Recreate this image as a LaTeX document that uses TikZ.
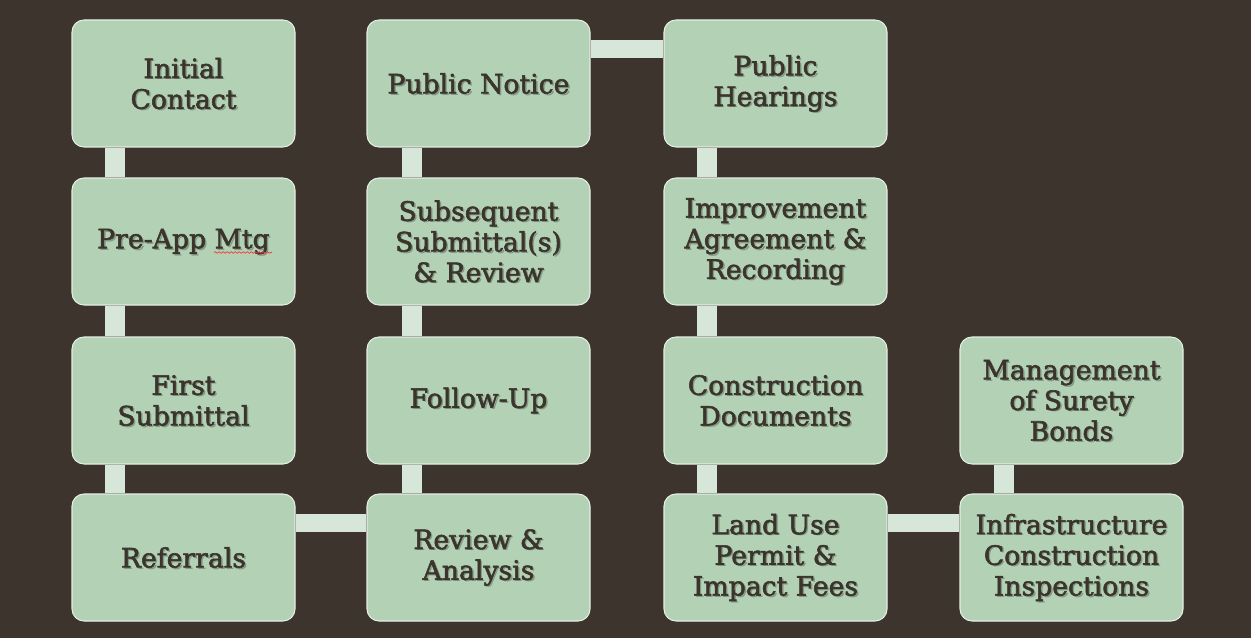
\documentclass[tikz,border=0pt]{standalone}
\usepackage{fontspec}
\setmainfont{DejaVu Serif}
\newfontfamily\boxfont{DejaVu Serif}
\usetikzlibrary{decorations.pathmorphing}
\definecolor{bgcol}{HTML}{3D352D}
\definecolor{boxfill}{HTML}{B2D1B5}
\definecolor{boxline}{HTML}{E6EEE6}
\definecolor{conncol}{HTML}{D6E7D9}
\definecolor{txtcol}{HTML}{3A342C}
\definecolor{shadowcol}{HTML}{1E1A16}
\newcommand\heavytext[1]{\special{pdf:code 2 Tr 0.4 w}#1\special{pdf:code 0 Tr}}
\newcommand\mkbox[4]{%
  \node[box] (#1) at (#2,#3) {};
  \node[txt, text=shadowcol, opacity=0.3] (#1s) at ([shift={(1.8,1.8)}]#1.center) {#4};
  \node[txt] (#1t) at (#1.center) {\heavytext{#4}};
}
\begin{document}
\begin{tikzpicture}[x=0.75pt,y=-0.75pt,
  box/.style={draw=boxline, line width=0.8pt, fill=boxfill, rounded corners=9pt,
    minimum width=167.25pt, minimum height=95.25pt, inner sep=0pt},
  txt/.style={font=\boxfont\fontsize{20}{23}\selectfont, text=txtcol, align=center, inner sep=0pt},
  vconn/.style={draw=conncol, line width=15pt},
  hconn/.style={draw=conncol, line width=13.5pt}]
\fill[bgcol] (0,0) rectangle (1251,638);
\useasboundingbox (0,0) rectangle (1251,638);
% column 1
\mkbox{a1}{183.5}{83.5}{Initial\\Contact}
\mkbox{a2}{183.5}{241.5}{Pre-App Mtg}
\mkbox{a3}{183.5}{400.5}{First\\Submittal}
\mkbox{a4}{183.5}{557.5}{Referrals}
% column 2
\mkbox{b1}{478.5}{83.5}{Public Notice}
\mkbox{b2}{478.5}{241.5}{Subsequent\\Submittal(s)\\\& Review}
\mkbox{b3}{478.5}{400.5}{Follow-Up}
\mkbox{b4}{478.5}{557.5}{Review \&\\Analysis}
% column 3
\mkbox{c1}{775.5}{83.5}{Public\\Hearings}
\mkbox{c2}{775.5}{241.5}{Improvement\\Agreement \&\\Recording}
\mkbox{c3}{775.5}{400.5}{Construction\\Documents}
\mkbox{c4}{775.5}{557.5}{Land Use\\Permit \&\\Impact Fees}
% column 4
\mkbox{d3}{1071.5}{400.5}{Management\\of Surety\\Bonds}
\mkbox{d4}{1071.5}{557.5}{Infrastructure\\Construction\\Inspections}
% spell-check squiggle
\draw[red!80!white, line width=0.5pt, decorate, decoration={snake, segment length=3pt, amplitude=0.6pt}]
  ([shift={(30.5,11)}]a2.center) -- ([shift={(88.5,11)}]a2.center);
% connectors
\draw[vconn] ([shift={(44,0)}]a1.south west) -- ([shift={(44,0)}]a2.north west);
\draw[vconn] ([shift={(44,0)}]a2.south west) -- ([shift={(44,0)}]a3.north west);
\draw[vconn] ([shift={(44,0)}]a3.south west) -- ([shift={(44,0)}]a4.north west);
\draw[hconn] ([shift={(0,30)}]a4.north east) -- ([shift={(0,30)}]b4.north west);
\draw[vconn] ([shift={(46,0)}]b4.north west) -- ([shift={(46,0)}]b3.south west);
\draw[vconn] ([shift={(46,0)}]b3.north west) -- ([shift={(46,0)}]b2.south west);
\draw[vconn] ([shift={(46,0)}]b2.north west) -- ([shift={(46,0)}]b1.south west);
\draw[hconn] ([shift={(0,30)}]b1.north east) -- ([shift={(0,30)}]c1.north west);
\draw[vconn] ([shift={(44,0)}]c1.south west) -- ([shift={(44,0)}]c2.north west);
\draw[vconn] ([shift={(44,0)}]c2.south west) -- ([shift={(44,0)}]c3.north west);
\draw[vconn] ([shift={(44,0)}]c3.south west) -- ([shift={(44,0)}]c4.north west);
\draw[hconn] ([shift={(0,30)}]c4.north east) -- ([shift={(0,30)}]d4.north west);
\draw[vconn] ([shift={(45,0)}]d4.north west) -- ([shift={(45,0)}]d3.south west);
\end{tikzpicture}
\end{document}
